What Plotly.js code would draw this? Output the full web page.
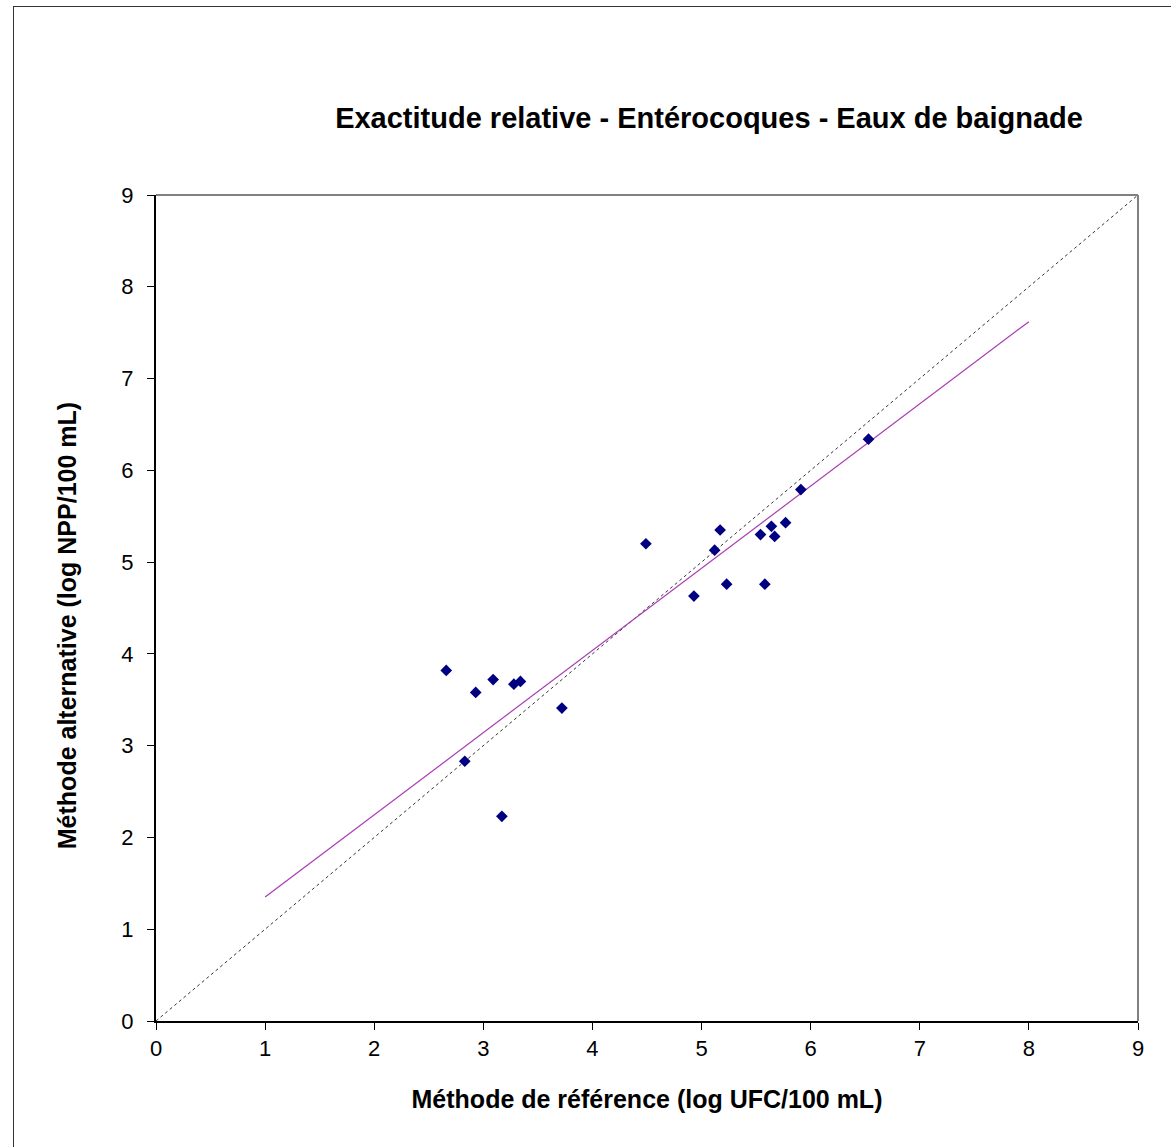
<!DOCTYPE html>
<html>
<head>
<meta charset="utf-8">
<script src="https://cdn.plot.ly/plotly-3.0.1.min.js"></script>
<style>
html, body { margin: 0; padding: 0; background: #ffffff; }
#wrap { position: relative; width: 1171px; height: 1147px; overflow: hidden; }
#frame { position: absolute; left: 13px; top: 6px; width: 1170px; height: 1160px; border: 1px solid #333333; box-sizing: border-box; pointer-events: none; z-index: 2; }
#chart { position: absolute; left: 0; top: 0; width: 1171px; height: 1147px; }
</style>
</head>
<body>
<div id="wrap">
<div id="chart"></div>
<div id="frame"></div>
</div>
<script>
// Data
const refMethod = [2.66, 2.83, 2.93, 3.09, 3.17, 3.28, 3.34, 3.72, 4.49, 4.93, 5.12, 5.17, 5.23, 5.54, 5.58, 5.64, 5.67, 5.77, 5.91, 6.53];
const altMethod = [3.82, 2.83, 3.58, 3.72, 2.23, 3.67, 3.70, 3.41, 5.20, 4.63, 5.13, 5.35, 4.76, 5.30, 4.76, 5.39, 5.28, 5.43, 5.79, 6.34];
const identityX = [0, 9];
const identityY = [0, 9];
const trendX = [1, 8];
const trendY = [1.35, 7.62];
const tickVals = [0, 1, 2, 3, 4, 5, 6, 7, 8, 9];
const tickText = ["0", "1", "2", "3", "4", "5", "6", "7", "8", "9"];

const FONT = '"Liberation Sans", Arial, sans-serif';

const traces = [
  {
    x: identityX, y: identityY, type: 'scatter', mode: 'lines',
    line: { color: '#000000', width: 0.8, dash: 'dot' }, hoverinfo: 'skip'
  },
  {
    x: trendX, y: trendY, type: 'scatter', mode: 'lines',
    line: { color: '#a93cb4', width: 1.2 }, hoverinfo: 'skip'
  },
  {
    x: refMethod, y: altMethod, type: 'scatter', mode: 'markers',
    marker: { symbol: 'diamond', size: 9, color: '#000080' }
  }
];

const axisCommon = {
  range: [0, 9], tickvals: tickVals, ticktext: tickText,
  showgrid: false, zeroline: false, showline: true, linecolor: '#000000', linewidth: 2,
  ticks: 'outside', ticklen: 7, tickwidth: 1, tickcolor: '#000000',
  tickfont: { family: FONT, size: 22, color: '#000000' }
};

const layout = {
  width: 1171, height: 1147,
  paper_bgcolor: '#ffffff', plot_bgcolor: '#ffffff',
  showlegend: false,
  margin: { l: 156, r: 33, t: 195, b: 126 },
  title: {
    text: 'Exactitude relative - Entérocoques - Eaux de baignade',
    font: { family: FONT, size: 29, color: '#000000', weight: 'bold' },
    x: 0.6055, xref: 'container', xanchor: 'center',
    y: 1 - 118 / 1147, yref: 'container', yanchor: 'middle'
  },
  xaxis: Object.assign({}, axisCommon, {
    title: { text: 'Méthode de référence (log UFC/100 mL)', standoff: 30,
      font: { family: FONT, size: 25, color: '#000000', weight: 'bold' } }
  }),
  yaxis: Object.assign({}, axisCommon, {
    ticklabelstandoff: 9
  }),
  annotations: [
    {
      text: 'Méthode alternative (log NPP/100 mL)', textangle: -90,
      xref: 'paper', yref: 'paper', x: -0.0906, y: 0.478,
      xanchor: 'center', yanchor: 'middle', showarrow: false,
      font: { family: FONT, size: 25, color: '#000000', weight: 'bold' }
    }
  ],
  shapes: [
    { type: 'line', xref: 'paper', yref: 'paper', x0: 0, x1: 1, y0: 1, y1: 1, line: { color: '#808080', width: 2 } },
    { type: 'line', xref: 'paper', yref: 'paper', x0: 1, x1: 1, y0: 0, y1: 1, line: { color: '#808080', width: 2 } }
  ]
};

Plotly.newPlot('chart', traces, layout, { displayModeBar: false, staticPlot: true });
</script>
</body>
</html>
